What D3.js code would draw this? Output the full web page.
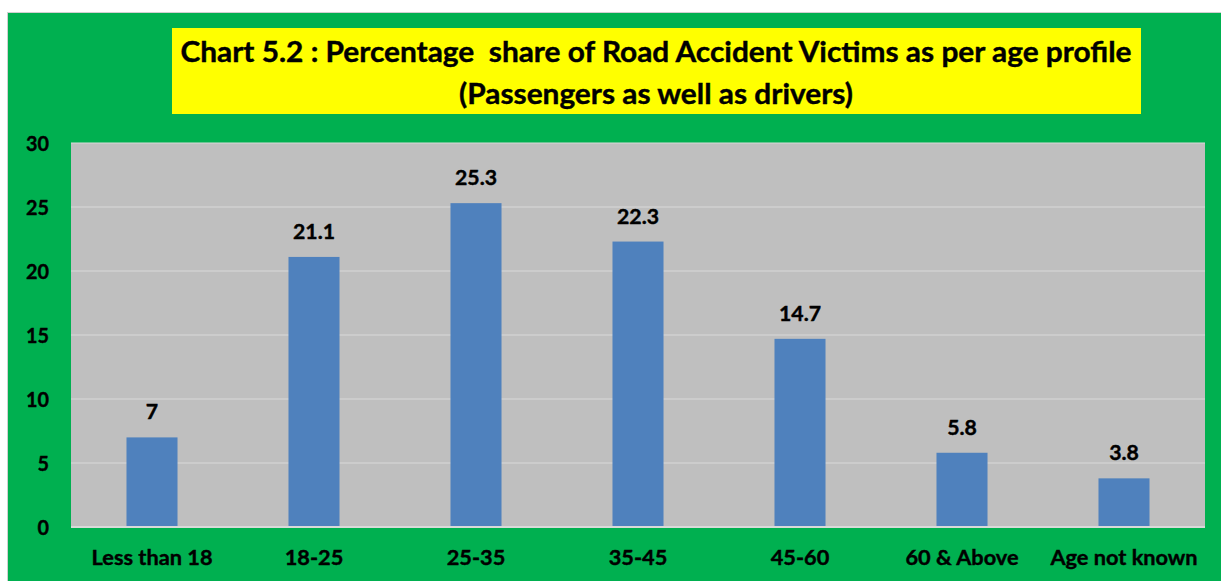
<!DOCTYPE html>
<html>
<head>
<meta charset="utf-8">
<script src="https://cdn.jsdelivr.net/npm/d3@7"></script>
<style>
  html, body { margin: 0; padding: 0; background: #ffffff; }
  svg { display: block; }
  text { font-family: Lato, "Open Sans", "DejaVu Sans", sans-serif; font-weight: 700; fill: #000; stroke: #000; stroke-width: 0.4px; white-space: pre; }
</style>
</head>
<body>
<svg id="chart" width="1221" height="581"></svg>
<script>
// ---- data ----
const categories = ["Less than 18", "18-25", "25-35", "35-45", "45-60", "60 & Above", "Age not known"];
const shares = [7, 21.1, 25.3, 22.3, 14.7, 5.8, 3.8];
const valueLabels = ["7", "21.1", "25.3", "22.3", "14.7", "5.8", "3.8"];
const yTicks = [0, 5, 10, 15, 20, 25, 30];
const titleLines = ["Chart 5.2 : Percentage  share of Road Accident Victims as per age profile", "(Passengers as well as drivers)"];

// ---- layout ----
const W = 1221, H = 581;
const plot = { left: 71, right: 1205, top: 143, bottom: 527 };
const svg = d3.select("#chart");

// outer frame
svg.append("rect").attr("x", 0).attr("y", 0).attr("width", W).attr("height", H).attr("fill", "#ffffff");
svg.append("rect").attr("x", 7.5).attr("y", 12.5).attr("width", W).attr("height", H)
  .attr("fill", "#00B050").attr("stroke", "#d0d0d0").attr("stroke-width", 1);

// title box
svg.append("rect").attr("x", 172).attr("y", 28).attr("width", 969).attr("height", 86).attr("fill", "#FFFF00");

const x = d3.scaleBand().domain(categories).range([plot.left, plot.right])
  .paddingInner(0.685).paddingOuter(0.3425);
const y = d3.scaleLinear().domain([0, 30]).range([plot.bottom, plot.top]);

// plot area
svg.append("rect").attr("x", plot.left).attr("y", plot.top)
  .attr("width", plot.right - plot.left).attr("height", plot.bottom - plot.top).attr("fill", "#BFBFBF");

// gridlines
svg.append("g").selectAll("line").data(yTicks.filter(d => d > 0)).join("line")
  .attr("x1", plot.left).attr("x2", plot.right)
  .attr("y1", d => y(d)).attr("y2", d => y(d))
  .attr("stroke", "#D9D9D9").attr("stroke-width", 1.2);

// bars
svg.append("g").selectAll("rect").data(shares).join("rect")
  .attr("x", (d, i) => x(categories[i]))
  .attr("y", d => y(d))
  .attr("width", x.bandwidth())
  .attr("height", d => y(0) - y(d))
  .attr("fill", "#4F81BD");

// x axis line
svg.append("line").attr("x1", plot.left).attr("x2", plot.right)
  .attr("y1", y(0)).attr("y2", y(0)).attr("stroke", "#D9D9D9").attr("stroke-width", 2);

// helper: stretch text horizontally to a factor of its natural width
function stretch(sel, factor) {
  sel.each(function () {
    const L = this.getComputedTextLength();
    d3.select(this).attr("textLength", L * factor).attr("lengthAdjust", "spacingAndGlyphs");
  });
}

// y axis tick labels
const yAxis = svg.append("g").attr("transform", `translate(49,0)`)
  .call(d3.axisLeft(y).tickValues(yTicks).tickSize(0).tickPadding(0).tickFormat(d3.format("d")));
yAxis.select(".domain").remove();
yAxis.selectAll("text").attr("font-size", 21).attr("dy", null)
  .attr("y", 7.5).attr("font-family", null);

// x axis labels
const xAxis = svg.append("g").attr("transform", `translate(0,${plot.bottom})`)
  .call(d3.axisBottom(x).tickSize(0).tickPadding(0));
xAxis.select(".domain").remove();
xAxis.selectAll("text").attr("font-size", 20).attr("dy", null).attr("y", 38).attr("font-family", null);

// value labels
const vl = svg.append("g").selectAll("text").data(shares).join("text")
  .attr("x", (d, i) => x(categories[i]) + x.bandwidth() / 2)
  .attr("y", d => y(d) - 18)
  .attr("text-anchor", "middle").attr("font-size", 20)
  .text((d, i) => valueLabels[i]);

// title
const tl = svg.append("g").selectAll("text").data(titleLines).join("text")
  .attr("x", 656).attr("y", (d, i) => i === 0 ? 62 : 104)
  .attr("text-anchor", "middle").attr("font-size", 28.5)
  .text(d => d);

// width matching against reference proportions
const t0 = tl.nodes()[0].getComputedTextLength();
stretch(tl, 951 / t0);
const xl = xAxis.selectAll("text").nodes()[0].getComputedTextLength();
stretch(xAxis.selectAll("text"), 121 / xl);
const v1 = vl.nodes()[1].getComputedTextLength();
stretch(vl, 42 / v1);
const y30 = yAxis.selectAll("text").nodes()[6].getComputedTextLength();
stretch(yAxis.selectAll("text"), 23 / y30);
</script>
</body>
</html>
